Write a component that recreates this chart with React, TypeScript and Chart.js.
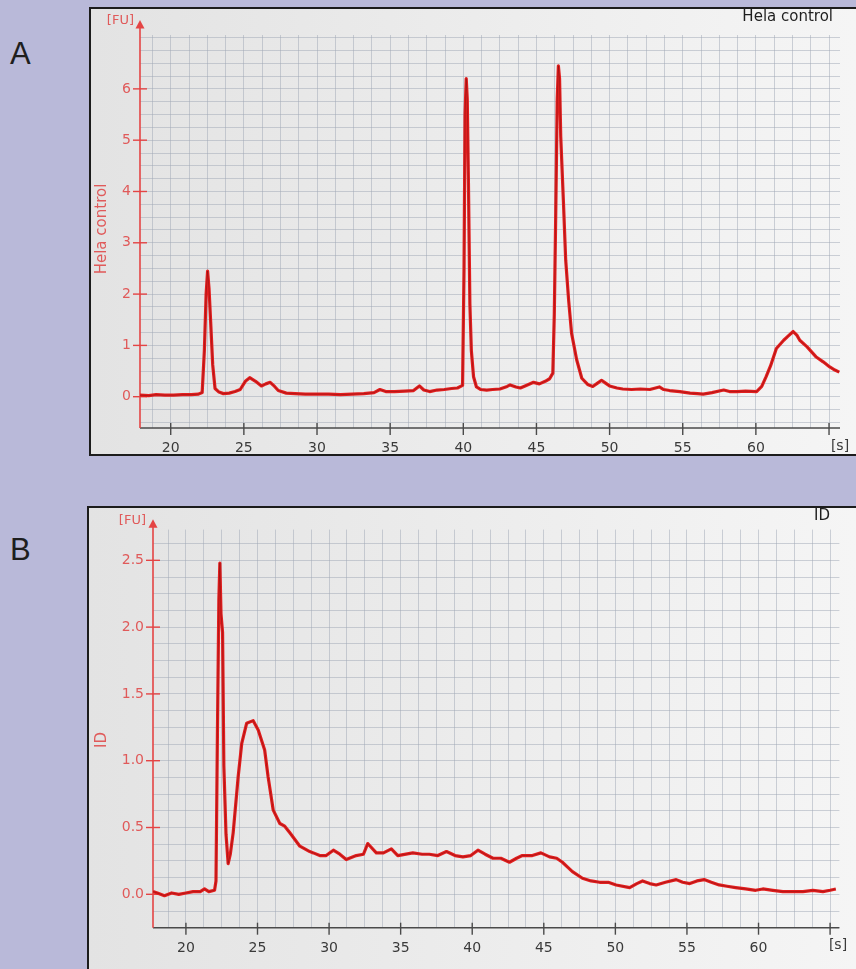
import React, { useEffect, useRef } from "react";
import { Chart, registerables } from "chart.js";

Chart.register(...registerables);
Chart.defaults.font.family = "'DejaVu Sans', sans-serif";

// ---------------- data ----------------
const A_TIME = [
  17.9, 18.5, 19.0, 19.6, 20.2, 20.8, 21.4, 21.9, 22.15, 22.3,
  22.42, 22.52, 22.62, 22.73, 22.87, 23.03, 23.3, 23.6, 24.0, 24.4,
  24.75, 25.1, 25.4, 25.8, 26.2, 26.5, 26.8, 27.1, 27.35, 27.9,
  28.5, 29.2, 30.0, 30.8, 31.6, 32.4, 33.2, 33.9, 34.3, 34.7,
  35.3, 36.0, 36.6, 37.0, 37.3, 37.7, 38.2, 38.7, 39.2, 39.6,
  39.95, 40.05, 40.12, 40.2, 40.27, 40.35, 40.45, 40.55, 40.7, 40.9,
  41.2, 41.6, 42.0, 42.5, 43.0, 43.2, 43.6, 43.9, 44.3, 44.8,
  45.2, 45.6, 45.9, 46.12, 46.22, 46.32, 46.42, 46.5, 46.58, 46.66,
  46.84, 47.0, 47.2, 47.4, 47.75, 48.1, 48.5, 48.85, 49.2, 49.45,
  49.7, 50.0, 50.5, 50.9, 51.5, 52.1, 52.75, 53.4, 53.7, 54.1,
  54.8, 55.5, 56.0, 56.4, 57.0, 57.8, 58.2, 58.7, 59.3, 60.05,
  60.4, 60.7, 61.0, 61.4, 61.9, 62.2, 62.55, 62.8, 63.0, 63.5,
  64.1, 64.6, 65.05, 65.4, 65.7,
];
const A_FU = [
  0.03, 0.02, 0.04, 0.03, 0.03, 0.04, 0.04, 0.05, 0.08, 0.9,
  2.0, 2.45, 2.1, 1.46, 0.62, 0.16, 0.09, 0.06, 0.07, 0.1,
  0.14, 0.3, 0.37, 0.3, 0.21, 0.25, 0.28, 0.2, 0.12, 0.07,
  0.06, 0.05, 0.05, 0.05, 0.04, 0.05, 0.06, 0.08, 0.14, 0.1,
  0.1, 0.11, 0.12, 0.21, 0.13, 0.1, 0.13, 0.14, 0.16, 0.17,
  0.22, 2.5, 5.5, 6.2, 5.8, 4.2, 1.8, 0.9, 0.39, 0.19,
  0.14, 0.13, 0.14, 0.15, 0.2, 0.23, 0.19, 0.17, 0.22, 0.28,
  0.25, 0.3, 0.35, 0.46, 1.6, 3.6, 5.8, 6.45, 6.2, 5.07,
  3.83, 2.66, 1.88, 1.24, 0.72, 0.36, 0.24, 0.2, 0.27, 0.32,
  0.27, 0.21, 0.17, 0.15, 0.14, 0.15, 0.14, 0.19, 0.14, 0.12,
  0.1, 0.07, 0.06, 0.05, 0.08, 0.13, 0.1, 0.1, 0.11, 0.1,
  0.2, 0.39, 0.6, 0.94, 1.1, 1.18, 1.27, 1.2, 1.1, 0.97,
  0.78, 0.68, 0.58, 0.52, 0.48,
];

const B_TIME = [
  17.7, 18.0, 18.5, 19.0, 19.5, 20.0, 20.5, 21.0, 21.3, 21.6,
  22.0, 22.1, 22.2, 22.3, 22.37, 22.45, 22.56, 22.65, 22.8, 22.95,
  23.1, 23.3, 23.65, 23.9, 24.24, 24.7, 25.05, 25.5, 25.74, 26.1,
  26.56, 26.9, 27.26, 27.96, 28.65, 28.9, 29.35, 29.8, 30.3, 30.75,
  31.2, 31.9, 32.4, 32.7, 33.3, 33.8, 34.35, 34.8, 35.85, 36.5,
  37.0, 37.6, 38.2, 38.8, 39.35, 39.9, 40.4, 40.9, 41.45, 42.0,
  42.6, 43.1, 43.5, 44.2, 44.8, 45.4, 45.9, 46.3, 46.7, 47.0,
  47.7, 48.3, 48.9, 49.5, 50.05, 51.0, 51.5, 51.9, 52.4, 52.85,
  53.5, 54.25, 54.7, 55.2, 55.7, 56.2, 56.7, 57.25, 57.8, 58.4,
  59.1, 59.8, 60.3, 61.0, 61.7, 62.4, 63.1, 63.8, 64.5, 65.0,
  65.4,
];
const B_FU = [
  0.02, 0.01, -0.01, 0.01, 0.0, 0.01, 0.02, 0.02, 0.04, 0.02,
  0.03, 0.1, 1.2, 2.2, 2.48, 2.1, 1.96, 0.96, 0.45, 0.23,
  0.3, 0.46, 0.88, 1.13, 1.28, 1.3, 1.23, 1.08, 0.88, 0.63,
  0.53, 0.51, 0.46, 0.36, 0.32, 0.31, 0.29, 0.29, 0.33, 0.3,
  0.26, 0.29, 0.3, 0.38, 0.31, 0.31, 0.34, 0.29, 0.31, 0.3,
  0.3, 0.29, 0.32, 0.29, 0.28, 0.29, 0.33, 0.3, 0.27, 0.27,
  0.24, 0.27, 0.29, 0.29, 0.31, 0.28, 0.27, 0.24, 0.2, 0.17,
  0.12, 0.1, 0.09, 0.09, 0.07, 0.05, 0.08, 0.1, 0.08, 0.07,
  0.09, 0.11, 0.09, 0.08, 0.1, 0.11, 0.09, 0.07, 0.06, 0.05,
  0.04, 0.03, 0.04, 0.03, 0.02, 0.02, 0.02, 0.03, 0.02, 0.03,
  0.04,
];

const X_LABEL_TICKS = [20, 25, 30, 35, 40, 45, 50, 55, 60];
const X_MARK_TICKS = [20, 25, 30, 35, 40, 45, 50, 55, 60, 65];
const A_Y_LABEL_TICKS = [0, 1, 2, 3, 4, 5, 6];
const B_Y_LABEL_TICKS = [0, 0.5, 1.0, 1.5, 2.0, 2.5];

// ---------------- styling ----------------
const RED_LINE = "#e31e1e";
const DARK_CORE = "rgba(90,12,12,0.35)";
const AXIS_RED = "#e44444";
const TICK_RED = "#e05a5a";
const GRID = "rgba(160,167,182,0.5)";

type PanelCfg = {
  key: string;
  letter: string;
  letterTop: number;
  box: { left: number; top: number; width: number; height: number };
  canvasW: number;
  canvasH: number;
  time: number[];
  fu: number[];
  xMin: number;
  xMax: number;
  yMin: number;
  yMax: number;
  yStep: number;
  yLabelTicks: number[];
  yFmt: (v: number) => string;
  padTop: number;
  padRight: number;
  yAxisW: number;
  xAxisH: number;
  title: string;
  titleRight: number;
  titleY: number;
  yTitle: string;
  yTitleX: number;
  yTitleY: number;
  fuRight: number;
  fuY: number;
  arrowTip: number;
  sX: number;
  sY: number;
};

const PANELS: PanelCfg[] = [
  {
    key: "A",
    letter: "A",
    letterTop: 38,
    box: { left: 89, top: 7, width: 767, height: 449 },
    canvasW: 765,
    canvasH: 445,
    time: A_TIME,
    fu: A_FU,
    xMin: 17.9,
    xMax: 65.75,
    yMin: -0.61,
    yMax: 7.05,
    yStep: 0.25,
    yLabelTicks: A_Y_LABEL_TICKS,
    yFmt: (v) => String(Math.round(v)),
    padTop: 26,
    padRight: 16,
    yAxisW: 49,
    xAxisH: 26,
    title: "Hela control",
    titleRight: 742,
    titleY: 8,
    yTitle: "Hela control",
    yTitleX: 11.5,
    yTitleY: 220,
    fuRight: 43,
    fuY: 12,
    arrowTip: 11,
    sX: 749,
    sY: 437,
  },
  {
    key: "B",
    letter: "B",
    letterTop: 534,
    box: { left: 87, top: 506, width: 769, height: 463 },
    canvasW: 767,
    canvasH: 461,
    time: B_TIME,
    fu: B_FU,
    xMin: 17.7,
    xMax: 65.65,
    yMin: -0.25,
    yMax: 2.73,
    yStep: 0.125,
    yLabelTicks: B_Y_LABEL_TICKS,
    yFmt: (v) => v.toFixed(1),
    padTop: 21.6,
    padRight: 16.6,
    yAxisW: 64,
    xAxisH: 41.3,
    title: "ID",
    titleRight: 741,
    titleY: 8,
    yTitle: "ID",
    yTitleX: 13,
    yTitleY: 232,
    fuRight: 57,
    fuY: 13,
    arrowTip: 11.3,
    sX: 749,
    sY: 437,
  },
];

const isIn = (v: number, list: number[]) => list.some((t) => Math.abs(t - v) < 1e-6);

function decorPlugin(p: PanelCfg) {
  return {
    id: "decor" + p.key,
    beforeDatasetsDraw(chart: any) {
      const { ctx, chartArea: ca, scales } = chart;
      const x = scales.x;
      const y = scales.y;
      ctx.save();
      // x axis
      ctx.strokeStyle = "#4a4a4a";
      ctx.lineWidth = 1.6;
      ctx.beginPath();
      ctx.moveTo(ca.left, ca.bottom);
      ctx.lineTo(ca.right, ca.bottom);
      ctx.stroke();
      ctx.lineWidth = 1.4;
      X_MARK_TICKS.forEach((v) => {
        const px = x.getPixelForValue(v);
        ctx.beginPath();
        ctx.moveTo(px, ca.bottom - 5);
        ctx.lineTo(px, ca.bottom + 7);
        ctx.stroke();
      });
      // y axis
      ctx.strokeStyle = AXIS_RED;
      ctx.lineWidth = 1.6;
      ctx.beginPath();
      ctx.moveTo(ca.left, ca.bottom);
      ctx.lineTo(ca.left, p.arrowTip + 6);
      ctx.stroke();
      ctx.fillStyle = AXIS_RED;
      ctx.beginPath();
      ctx.moveTo(ca.left, p.arrowTip);
      ctx.lineTo(ca.left - 4.5, p.arrowTip + 8.5);
      ctx.lineTo(ca.left + 4.5, p.arrowTip + 8.5);
      ctx.closePath();
      ctx.fill();
      ctx.lineWidth = 1.4;
      p.yLabelTicks.forEach((v) => {
        const py = y.getPixelForValue(v);
        ctx.beginPath();
        ctx.moveTo(ca.left - 7, py);
        ctx.lineTo(ca.left + 7, py);
        ctx.stroke();
      });
      ctx.restore();
    },
    afterDraw(chart: any) {
      const { ctx } = chart;
      ctx.save();
      ctx.textBaseline = "middle";
      // title top right
      ctx.font = "15px 'DejaVu Sans', sans-serif";
      ctx.fillStyle = "#1e1e1e";
      ctx.textAlign = "right";
      ctx.fillText(p.title, p.titleRight, p.titleY);
      // [FU]
      ctx.font = "13px 'DejaVu Sans', sans-serif";
      ctx.fillStyle = TICK_RED;
      ctx.fillText("[FU]", p.fuRight, p.fuY);
      // [s]
      ctx.fillStyle = "#3a3a3a";
      ctx.font = "14px 'DejaVu Sans', sans-serif";
      ctx.textAlign = "center";
      ctx.fillText("[s]", p.sX, p.sY);
      // y title
      ctx.translate(p.yTitleX, p.yTitleY);
      ctx.rotate(-Math.PI / 2);
      ctx.font = "15px 'DejaVu Sans', sans-serif";
      ctx.fillStyle = TICK_RED;
      ctx.textAlign = "center";
      ctx.fillText(p.yTitle, 0, 0);
      ctx.restore();
    },
  };
}

function Panel({ p }: { p: PanelCfg }) {
  const ref = useRef<HTMLCanvasElement | null>(null);
  useEffect(() => {
    if (!ref.current) return;
    const pts = p.time.map((t, i) => ({ x: t, y: p.fu[i] }));
    const chart = new Chart(ref.current, {
      type: "line",
      data: {
        datasets: [
          {
            data: pts,
            borderColor: DARK_CORE,
            borderWidth: 1,
            pointRadius: 0,
            tension: 0,
            order: 0,
          },
          {
            data: pts,
            borderColor: RED_LINE,
            borderWidth: 3.2,
            pointRadius: 0,
            tension: 0,
            borderJoinStyle: "round",
            order: 1,
          },
        ],
      },
      options: {
        animation: false,
        responsive: false,
        devicePixelRatio: 1,
        layout: { padding: { left: 0, right: p.padRight, top: p.padTop, bottom: 0 } },
        plugins: {
          legend: { display: false },
          tooltip: { enabled: false },
          title: { display: false },
        },
        scales: {
          x: {
            type: "linear",
            min: p.xMin,
            max: p.xMax,
            border: { display: false },
            grid: { color: GRID, lineWidth: 1, drawTicks: false },
            ticks: {
              stepSize: 1.25,
              includeBounds: false,
              autoSkip: false,
              maxRotation: 0,
              padding: 12,
              color: "#3a3a3a",
              font: { size: 14 },
              callback: (v: any) => (isIn(Number(v), X_LABEL_TICKS) ? String(Math.round(Number(v))) : ""),
            },
            afterFit: (s: any) => {
              s.height = p.xAxisH;
            },
          },
          y: {
            type: "linear",
            min: p.yMin,
            max: p.yMax,
            border: { display: false },
            grid: { color: GRID, lineWidth: 1, drawTicks: false },
            ticks: {
              stepSize: p.yStep,
              includeBounds: false,
              autoSkip: false,
              padding: 9,
              color: TICK_RED,
              font: { size: 14 },
              callback: (v: any) => (isIn(Number(v), p.yLabelTicks) ? p.yFmt(Number(v)) : ""),
            },
            afterFit: (s: any) => {
              s.width = p.yAxisW;
            },
          },
        },
      } as any,
      plugins: [decorPlugin(p)],
    });
    return () => chart.destroy();
  }, [p]);

  return (
    <>
      <div
        style={{
          position: "absolute",
          left: 10,
          top: p.letterTop,
          fontFamily: "'Liberation Sans', Arial, sans-serif",
          fontSize: 31,
          lineHeight: "31px",
          color: "#1e1e1e",
        }}
      >
        {p.letter}
      </div>
      <div
        style={{
          position: "absolute",
          left: p.box.left,
          top: p.box.top,
          width: p.box.width,
          height: p.box.height,
          boxSizing: "border-box",
          borderLeft: "2px solid #1c1c1c",
          borderTop: "2px solid #1c1c1c",
          borderBottom: p.key === "A" ? "2px solid #1c1c1c" : "none",
          background: "linear-gradient(to right, #e3e3e3, #f5f5f5)",
          overflow: "hidden",
        }}
      >
        <canvas
          ref={ref}
          width={p.canvasW}
          height={p.canvasH}
          style={{ position: "absolute", left: 0, top: 0, width: p.canvasW, height: p.canvasH }}
        />
      </div>
    </>
  );
}

export default function App() {
  return (
    <div
      style={{
        position: "absolute",
        left: 0,
        top: 0,
        width: 856,
        height: 969,
        background: "#b9b9d9",
        overflow: "hidden",
      }}
    >
      {PANELS.map((p) => (
        <Panel key={p.key} p={p} />
      ))}
    </div>
  );
}
